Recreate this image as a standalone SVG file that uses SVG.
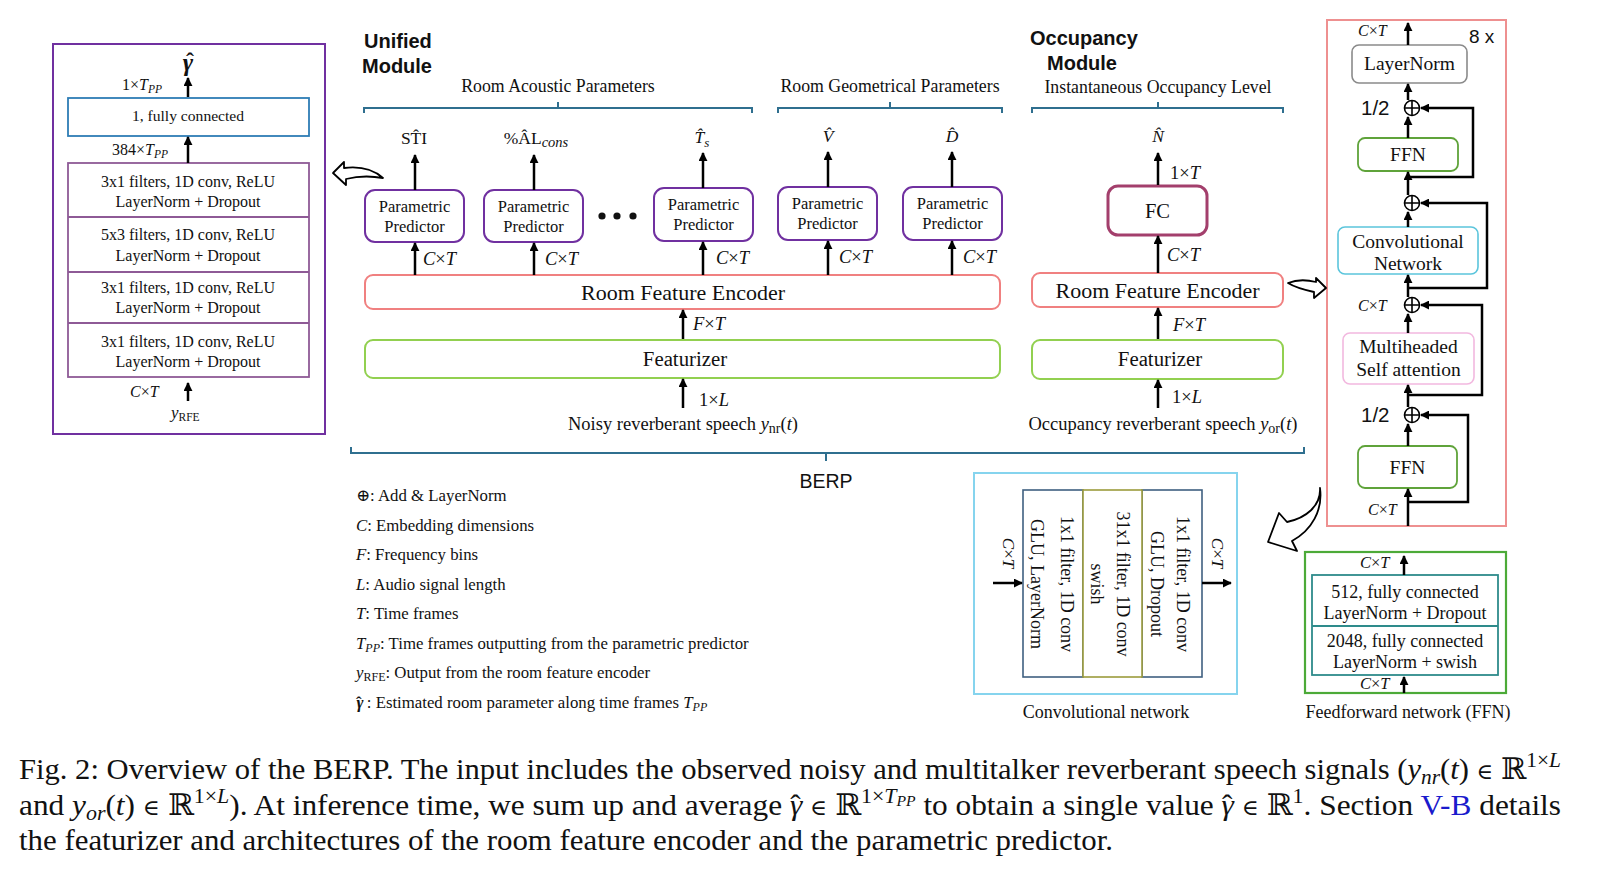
<svg xmlns="http://www.w3.org/2000/svg" width="1613" height="884" viewBox="0 0 1613 884">
<style>
.s{font-family:"Liberation Serif","Times New Roman","DejaVu Serif",serif;fill:#111}
.ss{font-family:"Liberation Sans",Arial,"DejaVu Sans",sans-serif;fill:#111}
.i{font-style:italic}
.ar{stroke:#000;stroke-width:2.5;fill:none;marker-end:url(#ah)}
.br{stroke:#2f6f8f;stroke-width:2;fill:none}
.ho{fill:#fff;stroke:#000;stroke-width:1.8;stroke-linejoin:round}
.pp{fill:#fff;stroke:#7030a0;stroke-width:2}
.rfe{fill:#fff;stroke:#f08080;stroke-width:2}
.fz{fill:#fff;stroke:#92d050;stroke-width:2}
.ffn{fill:#fff;stroke:#5fa33a;stroke-width:1.8}
.op{fill:#fff;stroke:#000;stroke-width:1.6}
</style>
<defs>
<marker id="ah" viewBox="0 0 10 10" refX="9" refY="5" markerWidth="3.6" markerHeight="3.6" orient="auto"><path d="M0,0 L10,5 L0,10 z" fill="#000"/></marker>
</defs>
<rect width="1613" height="884" fill="#fff"/>

<!-- Left: parametric predictor detail -->
<g id="pp-detail">
<rect x="53" y="44" width="272" height="390" fill="#fff" stroke="#7030a0" stroke-width="2"/>
<text class="s i" x="188" y="71" font-size="25" font-weight="bold" text-anchor="middle">γ</text>
<text class="s" x="190" y="69" font-size="24" font-weight="bold" text-anchor="middle">ˆ</text>
<text class="s" x="122" y="90" font-size="16">1×<tspan class="i">T</tspan><tspan class="i" font-size="11.5" dy="3">PP</tspan></text>
<rect x="68" y="98" width="241" height="38" fill="#fff" stroke="#2e7db5" stroke-width="1.8"/>
<text class="s" x="188" y="121" font-size="15.6" text-anchor="middle">1, fully connected</text>
<text class="s" x="112" y="155" font-size="16">384×<tspan class="i">T</tspan><tspan class="i" font-size="11.5" dy="3">PP</tspan></text>
<rect x="68" y="163" width="241" height="214" fill="#fff" stroke="#8e5a96" stroke-width="1.8"/>
<line x1="68" y1="217" x2="309" y2="217" stroke="#8e5a96" stroke-width="1.8"/>
<line x1="68" y1="272" x2="309" y2="272" stroke="#8e5a96" stroke-width="1.8"/>
<line x1="68" y1="323" x2="309" y2="323" stroke="#8e5a96" stroke-width="1.8"/>
<g class="s" font-size="16" text-anchor="middle">
<text x="188" y="187">3x1 filters, 1D conv, ReLU</text>
<text x="188" y="207">LayerNorm + Dropout</text>
<text x="188" y="240">5x3 filters, 1D conv, ReLU</text>
<text x="188" y="261">LayerNorm + Dropout</text>
<text x="188" y="293">3x1 filters, 1D conv, ReLU</text>
<text x="188" y="313">LayerNorm + Dropout</text>
<text x="188" y="347">3x1 filters, 1D conv, ReLU</text>
<text x="188" y="367">LayerNorm + Dropout</text>
</g>
<text class="s" x="130" y="397" font-size="16"><tspan class="i">C</tspan>×<tspan class="i">T</tspan></text>
<text class="s" x="171" y="418" font-size="17"><tspan class="i">y</tspan><tspan font-size="11.5" dy="3">RFE</tspan></text>
</g>

<!-- Unified module -->
<g id="unified-title">
<text class="ss" x="364" y="48" font-size="20" font-weight="bold">Unified</text>
<text class="ss" x="362" y="73" font-size="20" font-weight="bold">Module</text>
</g>
<g id="brackets">
<path class="br" d="M364,113 V108 H752 V113 M558,108 V102"/>
<path class="br" d="M778,113 V108 H1002 V113 M890,108 V102"/>
<path class="br" d="M1032,113 V108 H1283 V113 M1158,108 V102"/>
<path class="br" d="M351,447 V453 H1304 V447 M826,453 V461"/>
<text class="s" x="558" y="92" font-size="17.8" text-anchor="middle">Room Acoustic Parameters</text>
<text class="s" x="890" y="92" font-size="17.8" text-anchor="middle">Room Geometrical Parameters</text>
<text class="s" x="1158" y="93" font-size="17.8" text-anchor="middle">Instantaneous Occupancy Level</text>
<text class="ss" x="826" y="488" font-size="19.5" text-anchor="middle">BERP</text>
</g>

<g id="outputs" class="s" font-size="17.5" text-anchor="middle">
<text x="414" y="144">ST̂I</text>
<text x="536" y="144">%ÂL<tspan class="i" font-size="14.5" dy="3">cons</tspan></text>
<text x="702" y="143"><tspan class="i">T̂</tspan><tspan class="i" font-size="13" dy="4">s</tspan></text>
<text class="i" x="828" y="142">V̂</text>
<text class="i" x="952" y="142">D̂</text>
<text class="i" x="1158" y="142">N̂</text>
</g>

<g id="pp1"><rect class="pp" x="365" y="190" width="99" height="52" rx="10"/>
<text class="s" font-size="16.5" text-anchor="middle"><tspan x="414.5" y="212">Parametric</tspan><tspan x="414.5" y="232">Predictor</tspan></text></g>
<g id="pp2"><rect class="pp" x="484" y="190" width="99" height="52" rx="10"/>
<text class="s" font-size="16.5" text-anchor="middle"><tspan x="533.5" y="212">Parametric</tspan><tspan x="533.5" y="232">Predictor</tspan></text></g>
<g id="dots" fill="#111"><circle cx="602" cy="216" r="3.6"/><circle cx="617" cy="216" r="3.6"/><circle cx="633" cy="216" r="3.6"/></g>
<g id="pp3"><rect class="pp" x="654" y="188" width="99" height="53" rx="10"/>
<text class="s" font-size="16.5" text-anchor="middle"><tspan x="703.5" y="210">Parametric</tspan><tspan x="703.5" y="230">Predictor</tspan></text></g>
<g id="pp4"><rect class="pp" x="778" y="187" width="99" height="53" rx="10"/>
<text class="s" font-size="16.5" text-anchor="middle"><tspan x="827.5" y="209">Parametric</tspan><tspan x="827.5" y="229">Predictor</tspan></text></g>
<g id="pp5"><rect class="pp" x="903" y="187" width="99" height="53" rx="10"/>
<text class="s" font-size="16.5" text-anchor="middle"><tspan x="952.5" y="209">Parametric</tspan><tspan x="952.5" y="229">Predictor</tspan></text></g>

<g id="rfe1"><rect class="rfe" x="365" y="275" width="635" height="34" rx="8"/>
<text class="s" x="683" y="300" font-size="22" text-anchor="middle">Room Feature Encoder</text></g>
<g id="featurizer1"><rect class="fz" x="365" y="340" width="635" height="38" rx="8"/>
<text class="s" x="685" y="366" font-size="20.8" text-anchor="middle">Featurizer</text></g>
<text id="input1" class="s" x="683" y="430" font-size="18.5" text-anchor="middle">Noisy reverberant speech <tspan class="i">y</tspan><tspan font-size="14" dy="3">nr</tspan><tspan dy="-3">(</tspan><tspan class="i">t</tspan>)</text>

<!-- Occupancy module -->
<g id="occ-title">
<text class="ss" x="1030" y="45" font-size="20" font-weight="bold">Occupancy</text>
<text class="ss" x="1047" y="70" font-size="20" font-weight="bold">Module</text>
</g>
<g id="fc"><rect x="1108" y="186" width="99" height="49" rx="10" fill="#fff" stroke="#a33f6c" stroke-width="3"/>
<text class="s" x="1157.5" y="218" font-size="20.5" text-anchor="middle">FC</text></g>
<g id="rfe2"><rect class="rfe" x="1032" y="273" width="251" height="34" rx="8"/>
<text class="s" x="1157.5" y="298" font-size="22" text-anchor="middle">Room Feature Encoder</text></g>
<g id="featurizer2"><rect class="fz" x="1032" y="340" width="251" height="39" rx="8"/>
<text class="s" x="1160" y="366" font-size="20.8" text-anchor="middle">Featurizer</text></g>
<text id="input2" class="s" x="1163" y="430" font-size="18.5" text-anchor="middle">Occupancy reverberant speech <tspan class="i">y</tspan><tspan font-size="14" dy="3">or</tspan><tspan dy="-3">(</tspan><tspan class="i">t</tspan>)</text>

<!-- Conformer block (right) -->
<g id="conformer">
<rect x="1327" y="20" width="179" height="506" fill="none" stroke="#ee9090" stroke-width="2"/>
<text class="s" x="1358" y="36" font-size="16"><tspan class="i">C</tspan>×<tspan class="i">T</tspan></text>
<text class="ss" x="1469" y="43" font-size="19">8 x</text>
<rect x="1352" y="45" width="115" height="38" rx="7" fill="#fff" stroke="#8a8a8a" stroke-width="1.6"/>
<text class="s" x="1409.5" y="70" font-size="19.5" text-anchor="middle">LayerNorm</text>
<text class="ss" x="1361" y="115" font-size="20.5">1/2</text>
<rect class="ffn" x="1358" y="138" width="100" height="33" rx="7"/>
<text class="s" x="1408" y="161" font-size="19.5" text-anchor="middle">FFN</text>
<rect x="1338" y="227" width="140" height="47" rx="7" fill="#fff" stroke="#5bc5dc" stroke-width="1.6"/>
<text class="s" font-size="19.5" text-anchor="middle"><tspan x="1408" y="248">Convolutional</tspan><tspan x="1408" y="270">Network</tspan></text>
<text class="s" x="1358" y="311" font-size="16"><tspan class="i">C</tspan>×<tspan class="i">T</tspan></text>
<rect x="1343" y="333" width="131" height="51" rx="7" fill="#fff" stroke="#f2b8df" stroke-width="1.6"/>
<text class="s" font-size="19.5" text-anchor="middle"><tspan x="1408.5" y="353">Multiheaded</tspan><tspan x="1408.5" y="376">Self attention</tspan></text>
<text class="ss" x="1361" y="422" font-size="20.5">1/2</text>
<rect class="ffn" x="1358" y="446" width="99" height="42" rx="7"/>
<text class="s" x="1407.5" y="474" font-size="19.5" text-anchor="middle">FFN</text>
<text class="s" x="1368" y="515" font-size="16"><tspan class="i">C</tspan>×<tspan class="i">T</tspan></text>
<g id="adds">
<circle class="op" cx="1412" cy="108" r="7.5"/><path class="op" d="M1404.5,108 H1419.5 M1412,100.5 V115.5"/>
<circle class="op" cx="1412" cy="203" r="7.5"/><path class="op" d="M1404.5,203 H1419.5 M1412,195.5 V210.5"/>
<circle class="op" cx="1412" cy="305" r="7.5"/><path class="op" d="M1404.5,305 H1419.5 M1412,297.5 V312.5"/>
<circle class="op" cx="1412" cy="415" r="7.5"/><path class="op" d="M1404.5,415 H1419.5 M1412,407.5 V422.5"/>
</g>
</g>

<!-- Convolutional network detail -->
<g id="conv-detail">
<rect x="974" y="473" width="263" height="221" fill="none" stroke="#86d4ee" stroke-width="2"/>
<rect x="1023" y="490" width="60" height="187" fill="#fff" stroke="#3f6080" stroke-width="1.6"/>
<rect x="1142" y="490" width="60" height="187" fill="#fff" stroke="#3f6080" stroke-width="1.6"/>
<rect x="1083" y="490" width="59" height="187" fill="#fff" stroke="#9c9c3c" stroke-width="1.6"/>
<g class="s" font-size="18" text-anchor="middle">
<text transform="translate(1061,584) rotate(90)">1x1 filter, 1D conv</text>
<text transform="translate(1031,584) rotate(90)">GLU, LayerNorm</text>
<text transform="translate(1117,584) rotate(90)">31x1 filter, 1D conv</text>
<text transform="translate(1091,584) rotate(90)">swish</text>
<text transform="translate(1177,584) rotate(90)">1x1 filter, 1D conv</text>
<text transform="translate(1151,584) rotate(90)">GLU, Dropout</text>
</g>
<g class="s" font-size="17" text-anchor="middle">
<text transform="translate(1003,553) rotate(90)"><tspan class="i">C</tspan>×<tspan class="i">T</tspan></text>
<text transform="translate(1212,553) rotate(90)"><tspan class="i">C</tspan>×<tspan class="i">T</tspan></text>
</g>
<text class="s" x="1106" y="718" font-size="18" text-anchor="middle">Convolutional network</text>
</g>

<!-- FFN detail -->
<g id="ffn-detail">
<rect x="1305" y="552" width="201" height="141" fill="none" stroke="#4caa38" stroke-width="2.2"/>
<rect x="1312" y="575" width="186" height="100" fill="#fff" stroke="#2e8b8b" stroke-width="1.8"/>
<line x1="1312" y1="626" x2="1498" y2="626" stroke="#2e8b8b" stroke-width="1.8"/>
<g class="s" font-size="18" text-anchor="middle">
<text x="1405" y="598">512, fully connected</text>
<text x="1405" y="619">LayerNorm + Dropout</text>
<text x="1405" y="647">2048, fully connected</text>
<text x="1405" y="668">LayerNorm + swish</text>
</g>
<text class="s" x="1360" y="568" font-size="16.5"><tspan class="i">C</tspan>×<tspan class="i">T</tspan></text>
<text class="s" x="1360" y="689" font-size="16.5"><tspan class="i">C</tspan>×<tspan class="i">T</tspan></text>
<text class="s" x="1408" y="718" font-size="18" text-anchor="middle">Feedforward network (FFN)</text>
</g>

<!-- Connectors -->
<g id="connectors">
<line class="ar" x1="188" y1="97" x2="188" y2="78"/>
<line class="ar" x1="188" y1="163" x2="188" y2="137"/>
<line class="ar" x1="188" y1="401" x2="188" y2="383"/>
<line class="ar" x1="415" y1="190" x2="415" y2="155"/>
<line class="ar" x1="534" y1="190" x2="534" y2="155"/>
<line class="ar" x1="703" y1="188" x2="703" y2="153"/>
<line class="ar" x1="828" y1="187" x2="828" y2="152"/>
<line class="ar" x1="952" y1="187" x2="952" y2="152"/>
<line class="ar" x1="415" y1="275" x2="415" y2="243"/>
<line class="ar" x1="534" y1="275" x2="534" y2="243"/>
<line class="ar" x1="703" y1="275" x2="703" y2="242"/>
<line class="ar" x1="828" y1="275" x2="828" y2="241"/>
<line class="ar" x1="952" y1="275" x2="952" y2="241"/>
<line class="ar" x1="683" y1="339" x2="683" y2="310"/>
<line class="ar" x1="683" y1="408" x2="683" y2="379"/>
<line class="ar" x1="1158" y1="185" x2="1158" y2="153"/>
<line class="ar" x1="1158" y1="273" x2="1158" y2="236"/>
<line class="ar" x1="1158" y1="339" x2="1158" y2="308"/>
<line class="ar" x1="1158" y1="408" x2="1158" y2="380"/>
<g class="s" font-size="18.5">
<text x="423" y="265"><tspan class="i">C</tspan>×<tspan class="i">T</tspan></text>
<text x="545" y="265"><tspan class="i">C</tspan>×<tspan class="i">T</tspan></text>
<text x="716" y="264"><tspan class="i">C</tspan>×<tspan class="i">T</tspan></text>
<text x="839" y="263"><tspan class="i">C</tspan>×<tspan class="i">T</tspan></text>
<text x="963" y="263"><tspan class="i">C</tspan>×<tspan class="i">T</tspan></text>
<text x="693" y="330"><tspan class="i">F</tspan>×<tspan class="i">T</tspan></text>
<text x="699" y="406">1×<tspan class="i">L</tspan></text>
<text x="1170" y="179">1×<tspan class="i">T</tspan></text>
<text x="1167" y="261"><tspan class="i">C</tspan>×<tspan class="i">T</tspan></text>
<text x="1173" y="331"><tspan class="i">F</tspan>×<tspan class="i">T</tspan></text>
<text x="1172" y="403">1×<tspan class="i">L</tspan></text>
</g>
<!-- conformer internal -->
<line class="ar" x1="1408" y1="45" x2="1408" y2="23"/>
<line class="ar" x1="1408" y1="100" x2="1408" y2="84"/>
<line class="ar" x1="1408" y1="138" x2="1408" y2="117"/>
<line class="ar" x1="1408" y1="195" x2="1408" y2="172"/>
<line class="ar" x1="1408" y1="227" x2="1408" y2="212"/>
<line class="ar" x1="1408" y1="297" x2="1408" y2="275"/>
<line class="ar" x1="1408" y1="333" x2="1408" y2="314"/>
<line class="ar" x1="1408" y1="407" x2="1408" y2="385"/>
<line class="ar" x1="1408" y1="446" x2="1408" y2="424"/>
<line class="ar" x1="1408" y1="526" x2="1408" y2="489"/>
<path class="ar" d="M1408,177 H1473 V108 H1421"/>
<path class="ar" d="M1408,288 H1487 V203 H1421"/>
<path class="ar" d="M1408,395 H1482 V305 H1421"/>
<path class="ar" d="M1408,502 H1468 V415 H1421"/>
<!-- conv detail -->
<line class="ar" x1="993" y1="583" x2="1022" y2="583"/>
<line class="ar" x1="1202" y1="583" x2="1231" y2="583"/>
<!-- ffn detail -->
<line class="ar" x1="1404" y1="575" x2="1404" y2="556"/>
<line class="ar" x1="1404" y1="693" x2="1404" y2="677"/>
<!-- hollow arrows -->
<path class="ho" d="M333,173 L344,162 L344,168 C360,166 374,170 383,178 C372,176 358,176 346,179 L346,185 Z"/>
<path class="ho" d="M1288,283 C1298,279 1308,280 1316,282 L1316,278 L1326,288 L1314,298 L1314,292 C1305,290 1296,288 1288,283 Z"/>
<path class="ho" d="M1320,488 C1321,506 1306,518 1287,522 L1279,513 L1268,542 L1297,551 L1292,541 C1312,530 1323,510 1320,488 Z"/>
</g>

<!-- Legend -->
<g id="legend" class="s" font-size="16.8">
<text x="356" y="501">⊕: Add &amp; LayerNorm</text>
<text x="356" y="530.5"><tspan class="i">C</tspan>: Embedding dimensions</text>
<text x="356" y="560"><tspan class="i">F</tspan>: Frequency bins</text>
<text x="356" y="589.5"><tspan class="i">L</tspan>: Audio signal length</text>
<text x="356" y="619"><tspan class="i">T</tspan>:  Time frames</text>
<text x="356" y="648.5"><tspan class="i">T</tspan><tspan class="i" font-size="12" dy="3">PP</tspan><tspan dy="-3">: Time frames outputting from the parametric predictor</tspan></text>
<text x="356" y="678"><tspan class="i">y</tspan><tspan font-size="12" dy="3">RFE</tspan><tspan dy="-3">: Output from the room feature encoder</tspan></text>
<text x="356" y="707.5"><tspan class="i" font-weight="bold">γ</tspan><tspan font-weight="bold" dx="-7.5">ˆ</tspan><tspan dx="1"> : Estimated room parameter along time frames </tspan><tspan class="i">T</tspan><tspan class="i" font-size="12" dy="3">PP</tspan></text>
</g>

<!-- Caption -->
<g id="caption" class="s" font-size="30">
<text x="19" y="779" textLength="1542" lengthAdjust="spacingAndGlyphs">Fig. 2: Overview of the BERP. The input includes the observed noisy and multitalker reverberant speech signals (<tspan class="i">y</tspan><tspan class="i" font-size="21" dy="5">nr</tspan><tspan dy="-5">(</tspan><tspan class="i">t</tspan>) <tspan font-size="22">∈</tspan> ℝ<tspan font-size="21" dy="-12">1×</tspan><tspan class="i" font-size="21">L</tspan></text>
<text x="19" y="815" textLength="1542" lengthAdjust="spacingAndGlyphs">and <tspan class="i">y</tspan><tspan class="i" font-size="21" dy="5">or</tspan><tspan dy="-5">(</tspan><tspan class="i">t</tspan>) <tspan font-size="22">∈</tspan> ℝ<tspan font-size="21" dy="-12">1×</tspan><tspan class="i" font-size="21">L</tspan><tspan dy="12">). At inference time, we sum up and average </tspan><tspan class="i">γ</tspan><tspan dx="-11.5">ˆ</tspan><tspan dx="1.5"> </tspan><tspan font-size="22">∈</tspan> ℝ<tspan font-size="21" dy="-12">1×</tspan><tspan class="i" font-size="21">T</tspan><tspan class="i" font-size="15" dy="3">PP</tspan><tspan dy="9"> to obtain a single value </tspan><tspan class="i">γ</tspan><tspan dx="-11.5">ˆ</tspan><tspan dx="1.5"> </tspan><tspan font-size="22">∈</tspan> ℝ<tspan font-size="21" dy="-12">1</tspan><tspan dy="12">. Section </tspan><tspan fill="#1a1acc">V-B</tspan> details</text>
<text x="19" y="850" textLength="1094" lengthAdjust="spacingAndGlyphs">the featurizer and architectures of the room feature encoder and the parametric predictor.</text>
</g>
</svg>
